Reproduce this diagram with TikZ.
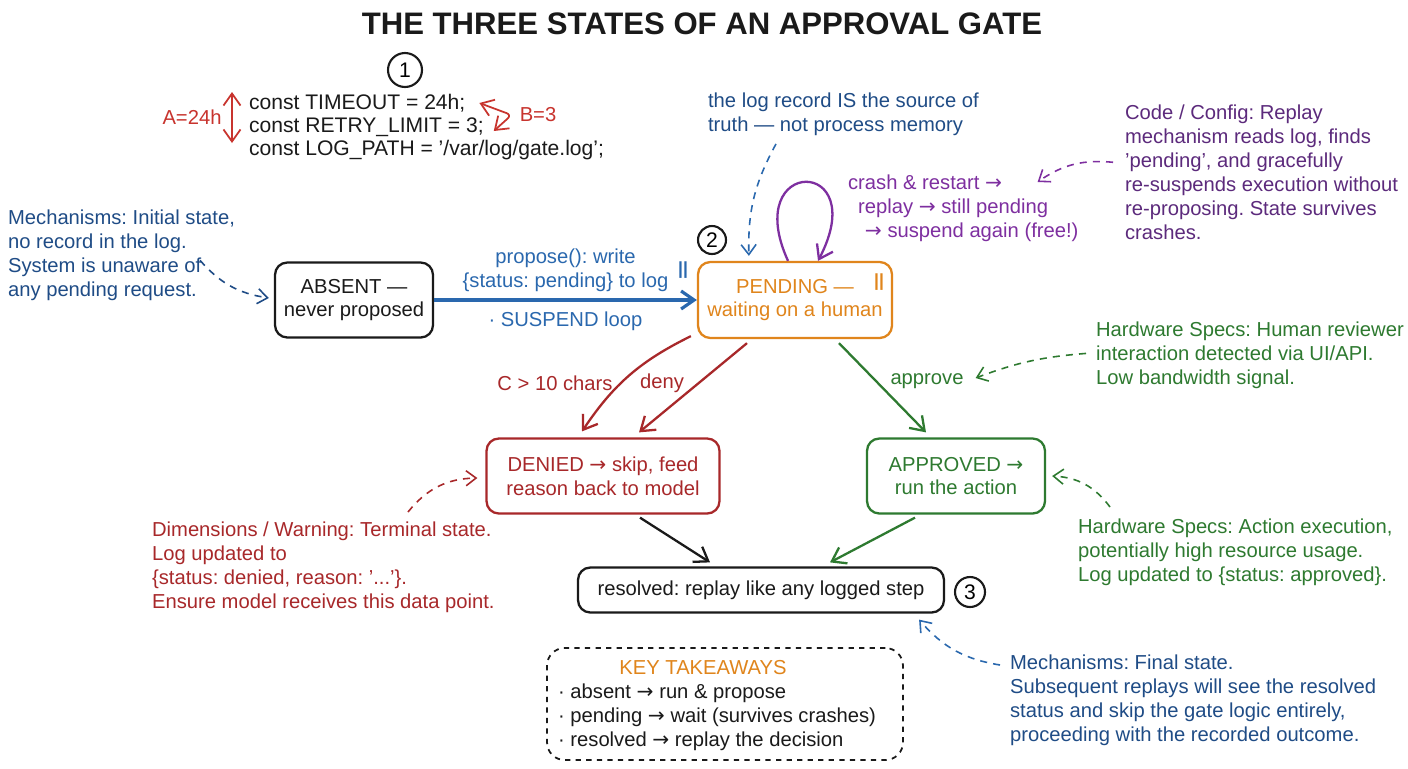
\documentclass[tikz,border=0pt]{standalone}
\usepackage{fontspec}
\setmainfont{Liberation Sans}
\newfontfamily\arrowfont{DejaVu Sans}
\newcommand\rarr{{\arrowfont →}}
\usepackage{tikz}
\usetikzlibrary{arrows.meta,calc}
\definecolor{inkblack}{HTML}{1A1A1A}
\definecolor{noteblue}{HTML}{1F4C86}
\definecolor{flowblue}{HTML}{2A68AE}
\definecolor{denyred}{HTML}{A8282A}
\definecolor{codered}{HTML}{C8342E}
\definecolor{pendorange}{HTML}{E0851C}
\definecolor{looppurple}{HTML}{7E2FA0}
\definecolor{notepurple}{HTML}{5C2A7C}
\definecolor{okgreen}{HTML}{2E7A30}
\tikzset{
  >={Straight Barb[length=2.4mm,width=3.4mm]},
  line/.style={-{Straight Barb[length=2.6mm,width=3.6mm]}, line width=1.3pt},
  dashedline/.style={-{Straight Barb[length=2mm,width=3mm]}, line width=0.9pt, dash pattern=on 4pt off 3.5pt},
  codeline/.style={draw=codered, line width=1pt},
  box/.style={
    draw,
    rounded corners=7pt,
    line width=1.3pt,
    align=center,
    font=\fontsize{11.5}{13.6}\selectfont,
    minimum height=1.5cm
  },
  note/.style={align=left, anchor=north west, inner sep=1pt, font=\fontsize{11.5}{13.6}\selectfont},
  label/.style={inner sep=1pt, font=\fontsize{11.5}{13.6}\selectfont},
  codetext/.style={anchor=west, inner sep=1pt, font=\fontsize{12}{14}\selectfont, text=inkblack},
  badge/.style={draw=inkblack, circle, line width=1.2pt, inner sep=0pt, font=\fontsize{12}{12}\selectfont}
}
\frenchspacing

\begin{document}
\begin{tikzpicture}[x=0.02cm,y=-0.02cm]
  \path[use as bounding box, fill=white] (0,0) rectangle (1408,768);

  \node[font=\fontsize{17.7}{20}\selectfont\bfseries, text=inkblack] (title) at (702,24) {THE THREE STATES OF AN APPROVAL GATE};

  % constants
  \node[badge, minimum size=0.68cm] (one) at (405,70) {1};
  \node[codetext] (code1) at (247,103) {const TIMEOUT = 24h;};
  \node[codetext] (code2) at (247,127) {const RETRY\_LIMIT = 3;};
  \node[codetext] (code3) at (247,150) {const LOG\_PATH = '/var/log/gate.log';};
  \node[label, text=codered] (alabel) at (192,117) {A=24h};
  \node[label, text=codered] (blabel) at (538,115) {B=3};
  \coordinate (atop) at (232,92);
  \coordinate (abot) at (232,143);
  \draw[codeline, <->] (atop) -- (abot);
  \draw[codeline, <->, rounded corners=3pt] ($(code1.east)+(12,0)$) -- ($(blabel.west)+(-6,0)$) -- ($(code2.east)+(8,4)$);

  % states
  \node[box, draw=inkblack, text=inkblack, minimum width=3.16cm] (absent) at (354,300)
    {ABSENT ---\\never proposed};
  \node[box, draw=pendorange, text=pendorange, minimum width=3.88cm, minimum height=1.52cm] (pending) at (795,300)
    {PENDING ---\\waiting on a human};
  \node[box, draw=denyred, text=denyred, minimum width=4.66cm] (denied) at (603,476)
    {DENIED \rarr\ skip, feed\\reason back to model};
  \node[box, draw=okgreen, text=okgreen, minimum width=3.56cm] (approved) at (956,476)
    {APPROVED \rarr\\run the action};
  \node[box, draw=inkblack, text=inkblack, minimum width=7.32cm, minimum height=0.9cm] (resolved) at (761,590)
    {resolved: replay like any logged step};

  \node[badge, minimum size=0.56cm] (two) at (712,240) {2};
  \node[badge, minimum size=0.6cm] (three) at (970,592) {3};
  \node[label, text=pendorange, font=\bfseries] (pausepend) at (879,282) {||};
  \node[label, text=flowblue, font=\bfseries] (pauseflow) at (683,270) {||};

  % notes
  \node[note, text=noteblue] (absentnote) at (6,208)
    {Mechanisms: Initial state,\\no record in the log.\\System is unaware of\\any pending request.};
  \node[note, text=noteblue] (truthnote) at (706,91)
    {the log record IS the source of\\truth --- not process memory};
  \node[note, text=notepurple] (replaynote) at (1123,103)
    {Code / Config: Replay\\mechanism reads log, finds\\'pending', and gracefully\\re-suspends execution without\\re-proposing. State survives\\crashes.};
  \node[note, text=looppurple] (crash) at (846,173)
    {crash \& restart \rarr\\\hspace{5.7pt}replay \rarr\ still pending\\\hspace{9.6pt}\rarr\ suspend again (free!)};
  \node[note, text=okgreen] (humannote) at (1094,320)
    {Hardware Specs: Human reviewer\\interaction detected via UI/API.\\Low bandwidth signal.};
  \node[note, text=okgreen] (actionnote) at (1076,517)
    {Hardware Specs: Action execution,\\potentially high resource usage.\\Log updated to \{status: approved\}.};
  \node[note, text=denyred] (deniednote) at (150,520)
    {Dimensions / Warning: Terminal state.\\Log updated to\\\{status: denied, reason: '...'\}.\\Ensure model receives this data point.};
  \node[note, text=noteblue] (finalnote) at (1008,653)
    {Mechanisms: Final state.\\Subsequent replays will see the resolved\\status and skip the gate logic entirely,\\proceeding with the recorded outcome.};

  % edge labels
  \node[label, text=denyred] (lencond) at (555,383) {C > 10 chars};
  \node[label, text=denyred] (denylbl) at (662,383) {deny};
  \node[label, text=okgreen] (approvelbl) at (927,381) {approve};

  % takeaways
  \node[draw=inkblack, dashed, rounded corners=10pt, line width=1pt, minimum width=7.12cm, minimum height=2.24cm] (takeaways) at (725,704) {};
  \node[label, text=pendorange] (takehead) at (703,668) {KEY TAKEAWAYS};
  \node[note, text=inkblack] (takelist) at (556,682)
    {· absent \rarr\ run \& propose\\· pending \rarr\ wait (survives crashes)\\· resolved \rarr\ replay the decision};

  % transitions
  \draw[line, flowblue, line width=1.8pt] (absent) -- (pending)
    node[midway, above=3pt, align=center, label, text=flowblue] {propose(): write\\\{status: pending\} to log}
    node[midway, below=5pt, label, text=flowblue] {· SUSPEND loop};
  \draw[line, looppurple] ($(pending.north)+(-7,0)$) .. controls +(-48,-105) and +(55,-105) .. ($(pending.north)+(23,0)$);
  \draw[line, denyred] ($(pending.south west)+(-6,-3)$) to[bend right=15] ($(denied.north)+(-21,-6)$);
  \draw[line, denyred] ($(pending.south)+(-48,4)$) -- ($(denied.north)+(36,-5)$);
  \draw[line, okgreen] ($(pending.south)+(44,4)$) -- ($(approved.north)+(-30,-5)$);
  \draw[line, inkblack] ($(denied.south)+(37,3)$) -- ($(resolved.north)+(-51,-4)$);
  \draw[line, okgreen] ($(approved.south)+(-41,3)$) -- ($(resolved.north)+(69,-4)$);

  % annotation pointers
  \draw[dashedline, noteblue] ($(absentnote.east)+(-37,5)$) to[bend right=20] ($(absent.west)+(-5,-2)$);
  \draw[dashedline, flowblue] ($(truthnote.south west)+(70,6)$) to[bend right=15] ($(pending.north west)+(52,-5)$);
  \draw[dashedline, looppurple] ($(replaynote.west)+(-10,-10)$) to[bend right=20] ($(crash.north east)+(-43,9)$);
  \draw[dashedline, okgreen] ($(humannote.west)+(-8,-2)$) to[bend right=8] ($(approvelbl.east)+(10,-3)$);
  \draw[dashedline, okgreen] ($(actionnote.north west)+(34,-10)$) to[bend right=25] ($(approved.east)+(6,0)$);
  \draw[dashedline, denyred] ($(deniednote.north west)+(258,-8)$) to[bend left=25] ($(denied.west)+(-8,2)$);
  \draw[dashedline, flowblue] ($(finalnote.north west)+(-8,12)$) to[bend left=20] ($(resolved.south east)+(-26,6)$);
\end{tikzpicture}
\end{document}
